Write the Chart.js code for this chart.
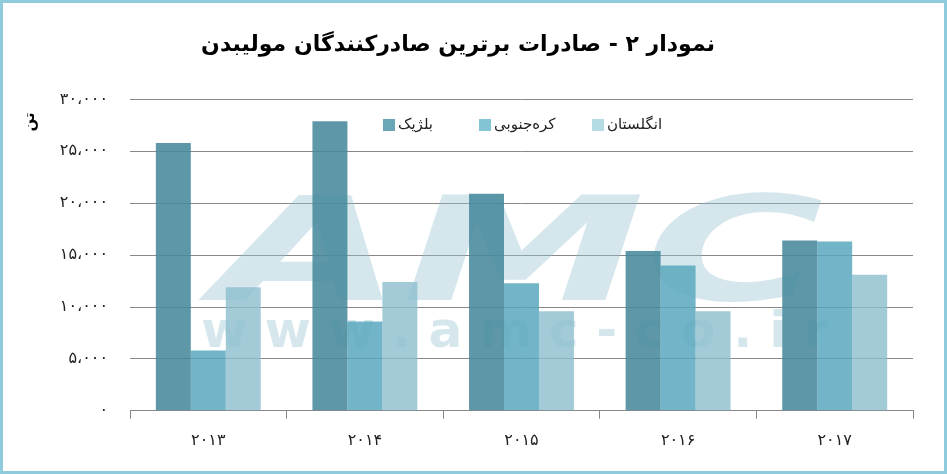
<!DOCTYPE html>
<html lang="fa">
<head>
<meta charset="utf-8">
<script src="https://cdn.jsdelivr.net/npm/chart.js@4.4.1/dist/chart.umd.min.js"></script>
<style>
  html, body { margin: 0; padding: 0; background: #fff; }
  .frame {
    width: 947px; height: 474px; box-sizing: border-box;
    border: 3px solid #8fcbdc; position: relative;
  }
  canvas { display: block; }
</style>
</head>
<body>
<div class="frame"><canvas id="chart"></canvas></div>
<script>
// --- data ---
const years = [2013, 2014, 2015, 2016, 2017];
const belgium = [25800, 27900, 20900, 15400, 16400];
const southKorea = [5800, 8600, 12300, 14000, 16300];
const england = [11900, 12400, 9600, 9600, 13100];
const seriesNames = ['بلژیک', 'کره‌جنوبی', 'انگلستان'];
const yTicks = [0, 5000, 10000, 15000, 20000, 25000, 30000];
const unitLabel = 'تن';

const faDigits = '۰۱۲۳۴۵۶۷۸۹';
const toFa = (n, sep) => {
    let s = String(n);
    if (sep) s = s.replace(/\B(?=(\d{3})+(?!\d))/g, '،');
    return s.replace(/\d/g, d => faDigits[d]);
};

const FONT = "'DejaVu Sans', sans-serif";

// faint watermark, seen through the bars
const watermark = {
    id: 'watermark',
    beforeDatasetsDraw(chart) {
        const { ctx } = chart;
        ctx.save();
        ctx.fillStyle = 'rgba(150, 195, 210, 0.4)';
        ctx.textAlign = 'center';
        ctx.textBaseline = 'alphabetic';
        ctx.save();
        ctx.translate(516, 297);
        ctx.scale(1.68, 1);
        ctx.font = `italic bold 145px ${FONT}`;
        ctx.fillText('AMC', 0, 0);
        ctx.restore();
        ctx.font = `bold 50px ${FONT}`;
        ctx.fillText('w w w . a m c - c o . i r', 512, 344, 650);
        ctx.restore();
    }
};

// legend inside the plot area, swatch left of each name
const innerLegend = {
    id: 'innerLegend',
    afterDraw(chart) {
        const { ctx } = chart;
        const swatch = ['#6aa6b5', '#82c3d4', '#b5dbe5'];
        const starts = [380, 476, 589];
        const y = 122;
        ctx.save();
        ctx.font = `15px ${FONT}`;
        ctx.textBaseline = 'middle';
        ctx.textAlign = 'left';
        chart.data.datasets.forEach((ds, i) => {
            ctx.fillStyle = swatch[i];
            ctx.fillRect(starts[i], y - 6, 12, 12);
            ctx.fillStyle = '#222';
            ctx.fillText(ds.label, starts[i] + 15, y);
        });
        // unit label of the value axis
        ctx.translate(27, 119);
        ctx.rotate(-Math.PI / 2);
        ctx.textAlign = 'center';
        ctx.fillStyle = '#000';
        ctx.font = `bold 15px ${FONT}`;
        ctx.fillText(unitLabel, 0, 0);
        ctx.restore();
    }
};

new Chart(document.getElementById('chart'), {
    type: 'bar',
    data: {
        labels: years.map(y => toFa(y)),
        datasets: [
            { label: seriesNames[0], data: belgium, backgroundColor: 'rgba(70, 137, 155, 0.87)' },
            { label: seriesNames[1], data: southKorea, backgroundColor: 'rgba(90, 168, 190, 0.85)' },
            { label: seriesNames[2], data: england, backgroundColor: 'rgba(140, 190, 205, 0.8)' }
        ]
    },
    options: {
        responsive: true,
        maintainAspectRatio: false,
        animation: false,
        layout: { padding: { left: 0, right: 31, top: 0, bottom: 9 } },
        datasets: { bar: { categoryPercentage: 0.67, barPercentage: 1.0 } },
        plugins: {
            legend: { display: false },
            tooltip: { enabled: false },
            title: {
                display: true,
                text: 'نمودار ۲ - صادرات برترین صادرکنندگان مولیبدن',
                font: { family: FONT, size: 22, weight: 'bold' },
                color: '#000',
                padding: { top: 29, bottom: 41 }
            }
        },
        scales: {
            x: {
                grid: { display: true, drawOnChartArea: false, offset: true, tickLength: 8, color: '#888' },
                border: { display: true, color: '#888' },
                ticks: { color: '#222', font: { family: FONT, size: 16 }, padding: 12 }
            },
            y: {
                min: 0,
                max: 30000,
                afterFit(scale) { scale.width = 127; },
                afterBuildTicks(scale) { scale.ticks = yTicks.map(v => ({ value: v })); },
                grid: { color: '#888', drawTicks: false },
                border: { display: false },
                ticks: {
                    color: '#222',
                    font: { family: FONT, size: 16 },
                    padding: 22,
                    callback: v => toFa(v, true)
                }
            }
        }
    },
    plugins: [watermark, innerLegend]
});
</script>
</body>
</html>
